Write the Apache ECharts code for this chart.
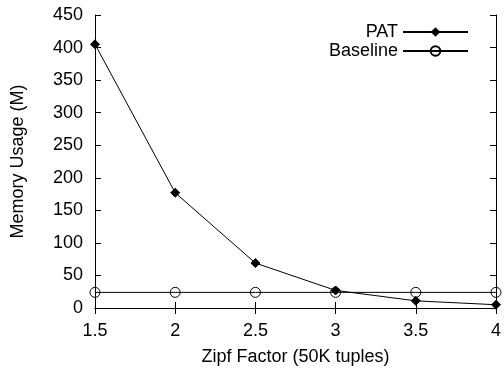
<!DOCTYPE html>
<html>
<head>
<meta charset="utf-8">
<script src="https://cdn.jsdelivr.net/npm/echarts@6/dist/echarts.min.js"></script>
<style>html,body{margin:0;padding:0;background:#fff}#c{width:504px;height:371px}</style>
</head>
<body>
<div id="c"></div>
<script>
const zipf = [1.5, 2, 2.5, 3, 3.5, 4];
const patValues = [405, 177, 69, 27, 11, 5];
const baselineValues = [24, 24, 24, 24, 24, 24];
const xTicks = [1.5, 2, 2.5, 3, 3.5, 4];
const yTicks = [0, 50, 100, 150, 200, 250, 300, 350, 400, 450];

const font = 'Liberation Sans, Arial, sans-serif';
const fs = 18;
const chart = echarts.init(document.getElementById('c'), null, {renderer: 'canvas'});
const axisCommon = {
  axisLine: {show: true, lineStyle: {color: '#000', width: 1}},
  axisTick: {show: true, inside: true, length: 6, lineStyle: {color: '#000'}},
  splitLine: {show: false}
};
chart.setOption({
  animation: false,
  backgroundColor: '#fff',
  grid: {left: 95, right: 8, top: 15, bottom: 60, containLabel: false},
  legend: {
    orient: 'vertical', right: 30, top: 18, align: 'right',
    itemWidth: 65, itemHeight: 12, itemGap: 1,
    textStyle: {fontFamily: font, fontSize: fs, color: '#000', lineHeight: 18},
    data: ['PAT', 'Baseline']
  },
  xAxis: [
    Object.assign({}, axisCommon, {
      type: 'value', min: xTicks[0], max: xTicks[xTicks.length - 1], interval: 0.5,
      name: 'Zipf Factor (50K tuples)', nameLocation: 'middle', nameGap: 40,
      nameTextStyle: {fontFamily: font, fontSize: fs, color: '#000'},
      axisLabel: {fontFamily: font, fontSize: fs, color: '#000', margin: 14}
    }),
    Object.assign({}, axisCommon, {
      type: 'value', position: 'top', min: xTicks[0], max: xTicks[xTicks.length - 1], interval: 0.5,
      axisLabel: {show: false}
    })
  ],
  yAxis: [
    Object.assign({}, axisCommon, {
      type: 'value', min: yTicks[0], max: yTicks[yTicks.length - 1], interval: 50,
      name: 'Memory Usage (M)', nameLocation: 'middle', nameGap: 68,
      nameTextStyle: {fontFamily: font, fontSize: fs, color: '#000'},
      axisLabel: {fontFamily: font, fontSize: fs, color: '#000', margin: 12}
    }),
    Object.assign({}, axisCommon, {
      type: 'value', position: 'right', min: yTicks[0], max: yTicks[yTicks.length - 1], interval: 50,
      axisLabel: {show: false}
    })
  ],
  series: [
    {
      name: 'PAT', type: 'line',
      data: zipf.map((x, i) => [x, patValues[i]]),
      symbol: 'diamond', symbolSize: 9,
      lineStyle: {color: '#000', width: 1},
      itemStyle: {color: '#000', borderColor: '#000'},
      z: 3
    },
    {
      name: 'Baseline', type: 'line',
      data: zipf.map((x, i) => [x, baselineValues[i]]),
      symbol: 'circle', symbolSize: 10,
      showAllSymbol: true,
      lineStyle: {color: '#000', width: 1},
      itemStyle: {color: 'rgba(255,255,255,0)', borderColor: '#000', borderWidth: 1},
      z: 2
    }
  ]
});
</script>
</body>
</html>
